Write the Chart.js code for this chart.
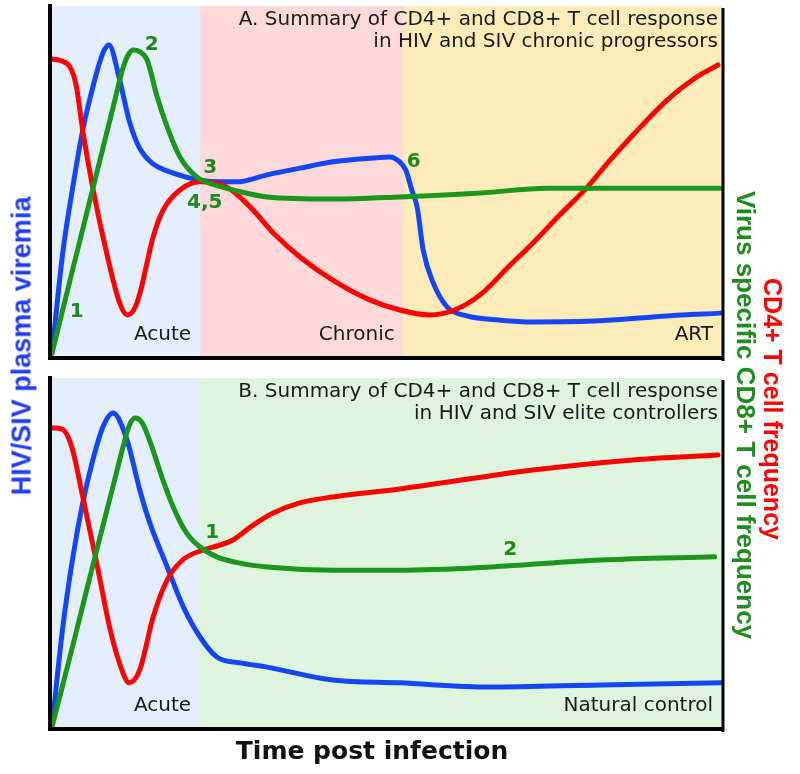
<!DOCTYPE html>
<html>
<head>
<meta charset="utf-8">
<script src="https://cdn.jsdelivr.net/npm/chart.js@4.4.1/dist/chart.umd.min.js"></script>
<style>
  body { margin: 0; background: #fff; }
  .page { position: relative; width: 800px; height: 774px; overflow: hidden; }
  canvas { position: absolute; left: 0; }
  #chart-a { top: 0; }
  #chart-b { top: 370px; }
  .label {
    position: absolute;
    white-space: nowrap;
    font-family: 'Liberation Sans', Arial, sans-serif;
    font-weight: bold;
    transform-origin: center;
  }
  .label-left { left: 22px; top: 346px; font-size: 27px; color: #1f3df2; transform: translate(-50%, -50%) rotate(-90deg); }
  .label-cd8 { left: 745px; top: 415px; font-size: 26px; color: #1e8c1e; transform: translate(-50%, -50%) rotate(90deg); }
  .label-cd4 { left: 772px; top: 409px; font-size: 25px; color: #ff0000; transform: translate(-50%, -50%) rotate(90deg); }
  .label-bottom {
    left: 372px; top: 750px; color: #111; transform: translate(-50%, -50%);
    font-family: 'DejaVu Sans', sans-serif; font-size: 25px;
  }
</style>
</head>
<body>
<div class="page">
  <canvas id="chart-a" width="800" height="370"></canvas>
  <canvas id="chart-b" width="800" height="404"></canvas>
  <div class="label label-left">HIV/SIV plasma viremia</div>
  <div class="label label-cd8">Virus specific CD8+ T cell frequency</div>
  <div class="label label-cd4">CD4+ T cell frequency</div>
  <div class="label label-bottom">Time post infection</div>
</div>
<script>
// Panel A - chronic progressors
const cd4AX = [0, 1.5, 2.7, 3.6, 4.6, 6.1, 8.2, 10.1, 11.2, 12.2, 13.1, 15.1, 16.6, 19.1, 22.1, 26.1, 29.6, 33.3, 37.0, 41.9, 47.5, 51.9, 56.4, 60.1, 63.9, 68.4, 71.8, 75.8, 79.9, 83.3, 86.7, 91.8, 96.0, 99.4]
const cd4AY = [84.9, 84.3, 82.6, 77.5, 64.4, 48.1, 29.3, 15.4, 12.0, 13.4, 18.0, 34.2, 41.9, 47.6, 49.9, 48.4, 42.7, 34.8, 28.5, 21.9, 16.2, 13.4, 12.0, 13.4, 17.7, 26.2, 32.5, 40.5, 48.4, 56.1, 63.2, 73.2, 79.5, 83.2]

const virusAX = [0, 1.6, 3.1, 4.6, 6.1, 7.6, 8.5, 10.0, 11.5, 13.0, 14.9, 18.1, 22.1, 25.1, 27.6, 32.1, 37.0, 41.9, 47.9, 50.4, 51.9, 52.8, 53.7, 54.5, 55.4, 56.9, 59.0, 61.9, 66.9, 71.8, 81.8, 91.8, 99.7]
const virusAY = [1.1, 29.6, 48.4, 64.7, 76.9, 86.6, 88.9, 79.8, 67.5, 59.8, 55.3, 52.4, 50.4, 49.9, 49.9, 51.9, 53.8, 55.6, 56.7, 57.0, 55.6, 53.3, 47.6, 42.7, 30.5, 21.1, 14.2, 11.7, 10.5, 10.0, 10.3, 11.7, 12.5]

const cd8AX = [0, 3.1, 6.1, 9.1, 10.7, 11.5, 12.1, 13.1, 14.2, 15.7, 17.2, 19.1, 21.6, 24.3, 27.0, 32.1, 41.9, 51.9, 63.9, 73.9, 81.8, 99.7]
const cd8AY = [1.1, 25.0, 48.0, 71.0, 83.0, 86.5, 87.5, 87.0, 84.6, 74.1, 65.5, 57.0, 51.3, 49.0, 47.6, 45.6, 45.0, 45.6, 46.7, 48.1, 48.1, 48.1]

// Panel B - elite controllers
const cd4BX = [0, 1.5, 3.0, 4.6, 6.7, 8.7, 10.6, 11.5, 13.1, 15.1, 17.2, 19.5, 22.6, 24.6, 27.0, 29.6, 33.0, 37.0, 41.9, 51.9, 71.8, 86.7, 99.4]
const cd4BY = [85.7, 85.4, 80.0, 66.0, 46.9, 28.0, 15.7, 12.9, 16.6, 31.7, 42.3, 48.0, 50.9, 52.0, 53.7, 57.4, 61.4, 64.3, 66.0, 68.3, 73.7, 76.6, 78.0]

const virusBX = [0, 1.6, 3.1, 4.6, 6.1, 7.6, 9.1, 11.2, 13.1, 14.6, 17.2, 19.6, 22.1, 24.6, 28.1, 32.1, 41.9, 51.9, 65.4, 81.8, 99.9]
const virusBY = [0.3, 28.6, 48.6, 64.4, 76.6, 86.0, 90.0, 82.3, 68.0, 58.6, 46.0, 34.6, 26.0, 20.3, 18.6, 17.4, 13.7, 12.9, 11.7, 12.3, 12.9]

const cd8BX = [0, 3.1, 6.1, 9.1, 10.7, 11.5, 12.4, 13.4, 14.6, 16.6, 18.1, 20.1, 22.1, 24.6, 28.1, 32.1, 41.9, 51.9, 65.4, 81.8, 98.9]
const cd8BY = [0.3, 23.5, 46.5, 69.0, 81.0, 86.3, 88.6, 87.4, 82.0, 70.6, 63.1, 55.7, 51.7, 48.9, 47.1, 46.0, 45.1, 45.1, 46.0, 48.0, 48.9]

// Phases (x where each phase ends)
const phasesA = ['Acute', 'Chronic', 'ART']
const phaseEndsA = [22.1, 52.5, 100]
const phasesB = ['Acute', 'Natural control']
const phaseEndsB = [22.1, 100]

// Numbered markers
const markersA = ['1', '2', '3', '4,5', '6']
const markersAX = [3.7, 14.9, 23.6, 22.8, 54.0]
const markersAY = [12.8, 88.9, 53.8, 43.9, 55.6]
const markersB = ['1', '2']
const markersBX = [23.9, 68.4]
const markersBY = [55.7, 50.9]

const titleA = ['A. Summary of CD4+ and CD8+ T cell response', 'in HIV and SIV chronic progressors']
const titleB = ['B. Summary of CD4+ and CD8+ T cell response', 'in HIV and SIV elite controllers']

const RED = '#ff0000'
const BLUE = '#1446f5'
const GREEN = '#1d961d'

const toPoints = (xs, ys) => xs.map((x, i) => ({ x: x, y: ys[i] }))

const lineStyle = (color) => ({
  borderColor: color,
  borderWidth: 5,
  pointRadius: 0,
  cubicInterpolationMode: 'monotone',
  borderCapStyle: 'round',
  borderJoinStyle: 'round',
  clip: false
})

// Draws phase backgrounds, axes, markers and titles
const panelPlugin = {
  id: 'panel',
  beforeDatasetsDraw(chart, args, opts) {
    const { ctx, chartArea, scales } = chart
    ctx.save()
    let start = chartArea.left
    opts.phaseEnds.forEach((end, i) => {
      const px = scales.x.getPixelForValue(end)
      ctx.fillStyle = opts.colors[i]
      ctx.fillRect(start, chartArea.top, px - start, chartArea.bottom - chartArea.top)
      start = px
    })
    ctx.restore()
  },
  afterDatasetsDraw(chart, args, opts) {
    const { ctx, chartArea, scales } = chart
    ctx.save()

    // Axes
    ctx.strokeStyle = '#000'
    ctx.lineWidth = 4
    ctx.beginPath()
    ctx.moveTo(chartArea.left - 2, chartArea.top - 2)
    ctx.lineTo(chartArea.left - 2, chartArea.bottom + 1)
    ctx.lineTo(chartArea.right + 2, chartArea.bottom + 1)
    ctx.stroke()
    ctx.lineWidth = 3
    ctx.beginPath()
    ctx.moveTo(chartArea.right + 1, chartArea.top + 2)
    ctx.lineTo(chartArea.right + 1, chartArea.bottom + 4)
    ctx.stroke()

    // Phase names
    ctx.font = '20px "DejaVu Sans"'
    ctx.fillStyle = '#1a1a1a'
    ctx.textAlign = 'right'
    ctx.textBaseline = 'middle'
    opts.phases.forEach((name, i) => {
      const px = scales.x.getPixelForValue(opts.phaseEnds[i])
      ctx.fillText(name, px - 9, chartArea.bottom - 22)
    })

    // Titles
    ctx.font = '20px "DejaVu Sans"'
    opts.title.forEach((line, i) => {
      ctx.fillText(line, chartArea.right - 4, chartArea.top + 14 + i * 22)
    })

    // Numbered markers
    ctx.font = 'bold 20px "DejaVu Sans"'
    ctx.fillStyle = '#1d8a1d'
    ctx.textAlign = 'center'
    opts.markers.forEach((m, i) => {
      ctx.fillText(m, scales.x.getPixelForValue(opts.markersX[i]), scales.y.getPixelForValue(opts.markersY[i]))
    })
    ctx.restore()
  }
}

const makePanel = (canvasId, series, padding, panelOpts) => {
  return new Chart(document.getElementById(canvasId), {
    type: 'line',
    data: {
      datasets: [
        { label: 'Virus specific CD8+ T cell frequency', data: series[2], ...lineStyle(GREEN) },
        { label: 'CD4+ T cell frequency', data: series[0], ...lineStyle(RED) },
        { label: 'HIV/SIV plasma viremia', data: series[1], ...lineStyle(BLUE) }
      ]
    },
    options: {
      responsive: false,
      animation: false,
      devicePixelRatio: 1,
      layout: { padding: padding },
      scales: {
        x: { type: 'linear', min: 0, max: 100, display: false },
        y: { min: 0, max: 100, display: false }
      },
      plugins: {
        legend: { display: false },
        tooltip: { enabled: false },
        panel: panelOpts
      }
    },
    plugins: [panelPlugin]
  })
}

makePanel('chart-a',
  [toPoints(cd4AX, cd4AY), toPoints(virusAX, virusAY), toPoints(cd8AX, cd8AY)],
  { left: 52, top: 6, right: 78, bottom: 13 },
  {
    phases: phasesA, phaseEnds: phaseEndsA,
    colors: ['#e5eefc', '#fdd9d9', '#fdebb8'],
    markers: markersA, markersX: markersAX, markersY: markersAY,
    title: titleA
  })

makePanel('chart-b',
  [toPoints(cd4BX, cd4BY), toPoints(virusBX, virusBY), toPoints(cd8BX, cd8BY)],
  { left: 52, top: 8, right: 78, bottom: 46 },
  {
    phases: phasesB, phaseEnds: phaseEndsB,
    colors: ['#e5eefc', '#dcf5dc'],
    markers: markersB, markersX: markersBX, markersY: markersBY,
    title: titleB
  })
</script>
</body>
</html>
